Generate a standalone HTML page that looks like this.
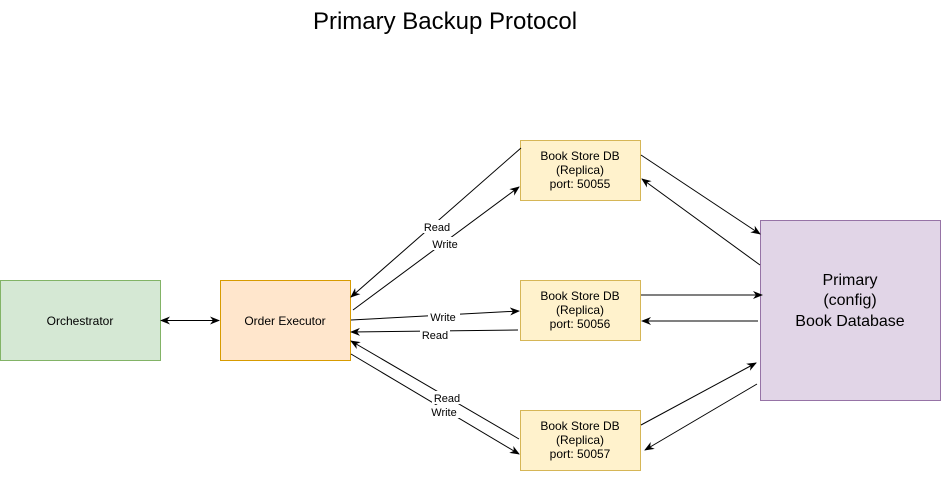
<!DOCTYPE html>
<html><head><style>
body{margin:0;width:941px;height:477px;background:#fff;overflow:hidden;font-family:"Liberation Sans",Arial,sans-serif}
</style></head><body>
<svg width="941" height="477" xmlns="http://www.w3.org/2000/svg" font-family="Liberation Sans, Arial, sans-serif">
<defs><marker id="a" markerWidth="10" markerHeight="10" refX="9" refY="5" orient="auto" markerUnits="userSpaceOnUse"><path d="M0,1 L10,5 L0,9 L3,5 z" fill="#000"/></marker></defs>
<text x="445" y="29" font-size="24" text-anchor="middle">Primary Backup Protocol</text>
<rect x="0.5" y="280.5" width="160" height="80" fill="#d5e8d4" stroke="#82b366"/>
<text x="80" y="325" font-size="12" text-anchor="middle">Orchestrator</text>
<rect x="220.5" y="280.5" width="130" height="80" fill="#ffe6cc" stroke="#d79b00"/>
<text x="285" y="325" font-size="12" text-anchor="middle">Order Executor</text>
<g font-size="12" text-anchor="middle">
<rect x="520.5" y="140.5" width="120" height="60" fill="#fff2cc" stroke="#d6b656"/>
<text x="580" y="160">Book Store DB</text><text x="580" y="174">(Replica)</text><text x="580" y="188">port: 50055</text>
<rect x="520.5" y="280.5" width="120" height="60" fill="#fff2cc" stroke="#d6b656"/>
<text x="580" y="300">Book Store DB</text><text x="580" y="314">(Replica)</text><text x="580" y="328">port: 50056</text>
<rect x="520.5" y="410.5" width="120" height="60" fill="#fff2cc" stroke="#d6b656"/>
<text x="580" y="430">Book Store DB</text><text x="580" y="444">(Replica)</text><text x="580" y="458">port: 50057</text>
</g>
<rect x="760.5" y="220.5" width="180" height="180" fill="#e1d5e7" stroke="#9673a6"/>
<g font-size="16" text-anchor="middle"><text x="850" y="285">Primary</text><text x="850" y="305">(config)</text><text x="850" y="326">Book Database</text></g>
<g stroke="#000" stroke-width="1" fill="none" marker-end="url(#a)">
<line x1="170" y1="320.5" x2="219" y2="320.5"/>
<line x1="210" y1="320.5" x2="161" y2="320.5"/>
<line x1="521" y1="148" x2="351" y2="297"/>
<line x1="353" y1="310" x2="519" y2="187"/>
<line x1="351" y1="320" x2="519" y2="311"/>
<line x1="518" y1="330" x2="351" y2="332"/>
<line x1="519" y1="439" x2="351" y2="341"/>
<line x1="351" y1="354" x2="519" y2="454"/>
<line x1="641" y1="155" x2="760" y2="234"/>
<line x1="760" y1="265" x2="642" y2="179"/>
<line x1="641" y1="295" x2="762" y2="295"/>
<line x1="758" y1="321" x2="642" y2="321"/>
<line x1="641" y1="425" x2="756" y2="363"/>
<line x1="757" y1="384" x2="645" y2="450"/>
</g>
<g font-size="11" text-anchor="middle">
<rect x="422" y="220" width="30" height="13" fill="#fff"/><text x="437" y="231">Read</text>
<rect x="430" y="237" width="32" height="13" fill="#fff"/><text x="445" y="248">Write</text>
<rect x="428" y="311" width="32" height="12" fill="#fff"/><text x="443" y="321">Write</text>
<rect x="420" y="329" width="30" height="12" fill="#fff"/><text x="435" y="339">Read</text>
<rect x="432" y="391" width="30" height="13" fill="#fff"/><text x="447" y="402">Read</text>
<rect x="428" y="405" width="32" height="13" fill="#fff"/><text x="444" y="416">Write</text>
</g>
</svg>
</body></html>
